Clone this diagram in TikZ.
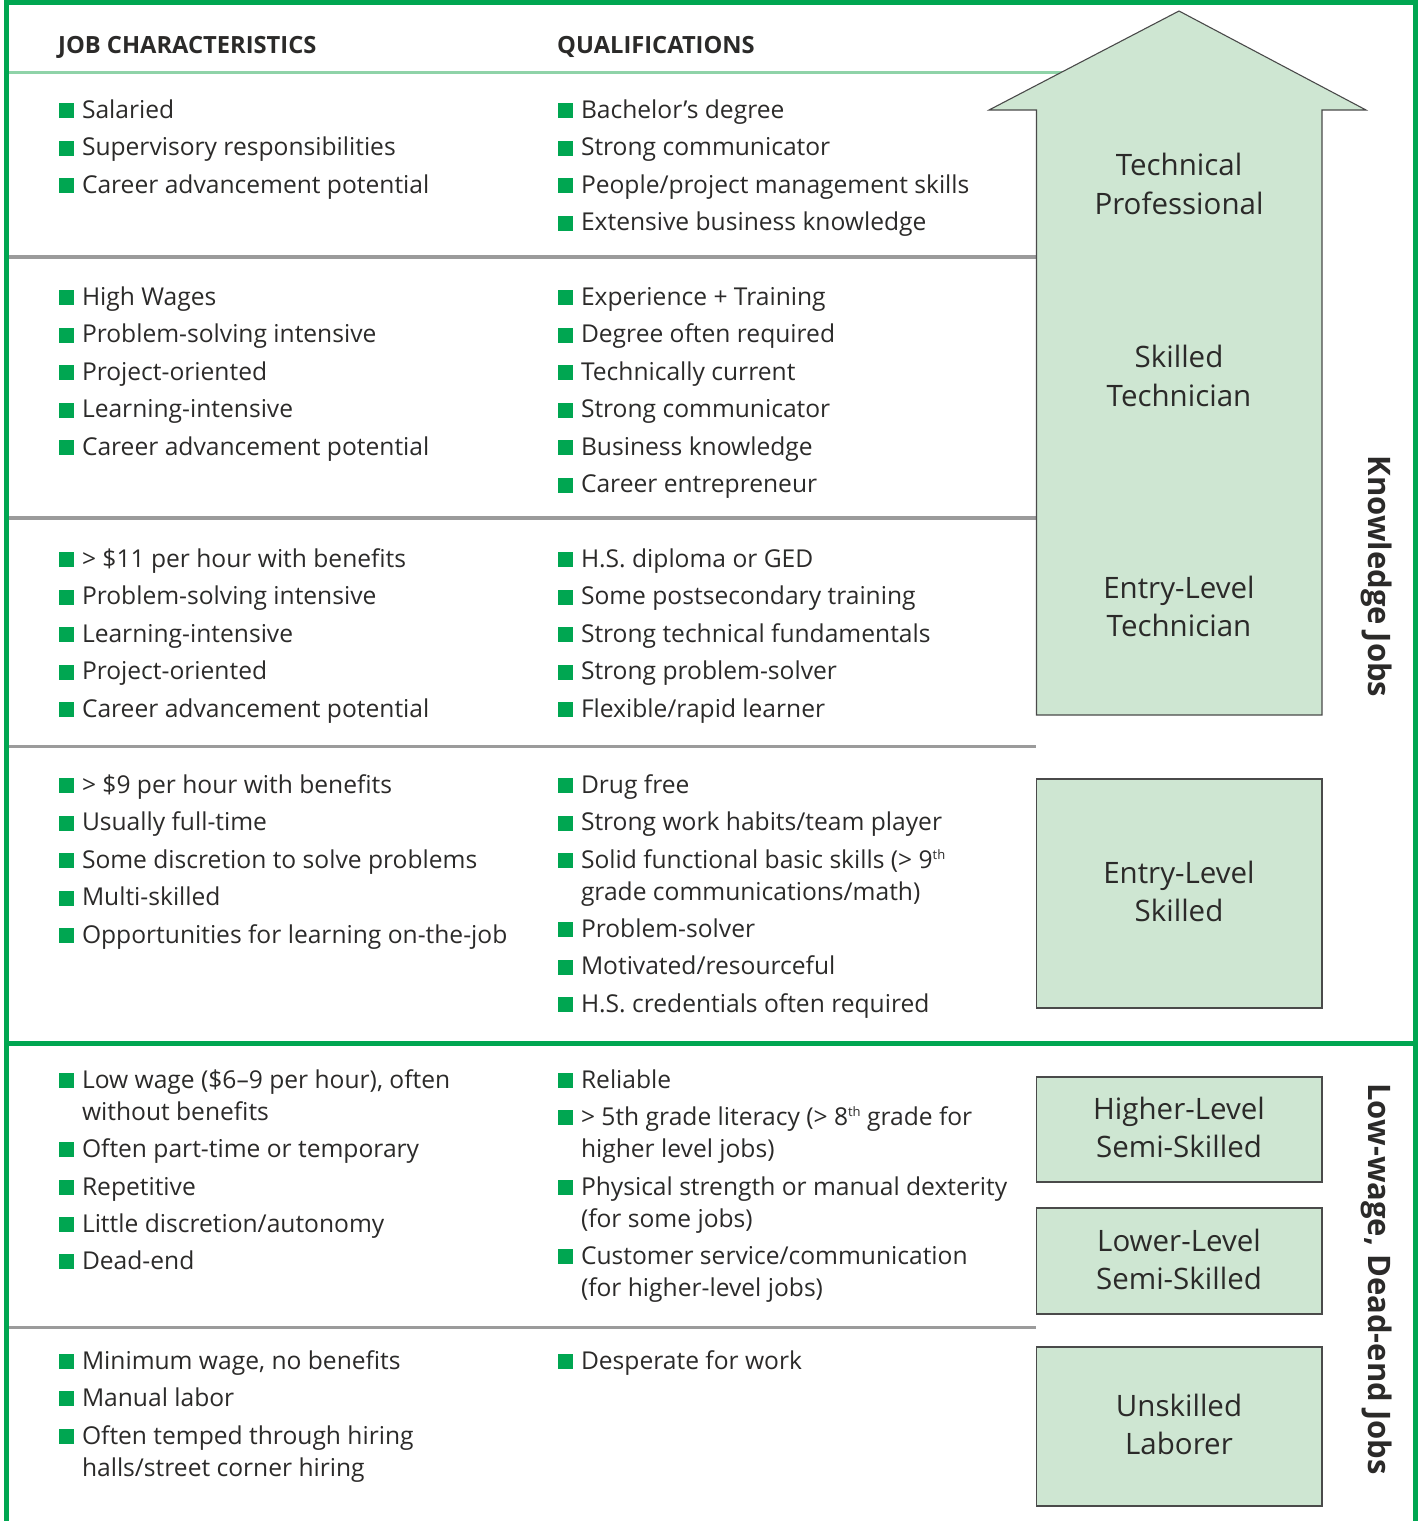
\documentclass[tikz,border=0pt]{standalone}
\usepackage{fontspec}
\setmainfont{Open Sans}
\definecolor{framegreen}{HTML}{00A651}
\definecolor{hdrline}{HTML}{8FD3A8}
\definecolor{sepgray}{HTML}{9B9B9B}
\definecolor{boxfill}{HTML}{CEE6D2}
\definecolor{boxline}{HTML}{4A4A4A}
\definecolor{txt}{HTML}{2B2A29}
\newcommand{\bul}{\textcolor{framegreen}{\rule{15pt}{15pt}}\hspace{8pt}}
\newcommand{\supth}{\raisebox{9pt}{\fontsize{13}{13}\selectfont th}}
\begin{document}
\begin{tikzpicture}[x=1pt,y=-1pt,
  li/.style={anchor=base west, inner sep=0pt, outer sep=0pt, font=\fontsize{24.6}{30}\selectfont, text=txt},
  hdr/.style={anchor=base west, inner sep=0pt, font=\bfseries\fontsize{23.7}{28}\selectfont, text=txt},
  lvl/.style={font=\fontsize{29.5}{38.5}\selectfont, align=center, text=txt, inner sep=0pt},
  sidelabel/.style={font=\bfseries\fontsize{31}{36}\selectfont, rotate=-90, text=txt, inner sep=0pt},
  boxst/.style={draw=boxline, fill=boxfill, line width=1.1pt},
  sep/.style={draw=sepgray, line width=3.5pt},
  frameline/.style={draw=framegreen, line width=5pt}]
\useasboundingbox (0,0) rectangle (1418,1521);

% header line and separators
\draw[draw=hdrline, line width=3pt] (9,72.5) -- (1100,72.5);
\draw[sep] (9,257) -- (1036,257);
\draw[sep] (9,518) -- (1036,518);
\draw[sep] (9,746.5) -- (1036,746.5);
\draw[sep] (9,1327.5) -- (1036,1327.5);

% headers
\node[hdr] (h1) at (58,53) {JOB CHARACTERISTICS};
\node[hdr] (h2) at (557,53) {QUALIFICATIONS};

% big arrow
\draw[boxst] (1036.5,715) -- (1036.5,110) -- (989,110) -- (1179,11) -- (1366,110) -- (1322,110) -- (1322,715) -- cycle;
\node[lvl] (tp) at (1179,184) {Technical\\Professional};
\node[lvl] (st) at (1179,376) {Skilled\\Technician};
\node[lvl] (et) at (1179,606.5) {Entry-Level\\Technician};

% boxes
\node[boxst, minimum width=285.5pt, minimum height=229pt] (esbox) at (1179.25,893.5) {};
\node[lvl] (es) at (1179,891.5) {Entry-Level\\Skilled};
\node[boxst, minimum width=285.5pt, minimum height=105pt] (hibox) at (1179.25,1129.5) {};
\node[lvl] (hi) at (1179,1127.5) {Higher-Level\\Semi-Skilled};
\node[boxst, minimum width=285.5pt, minimum height=106pt] (lobox) at (1179.25,1261) {};
\node[lvl] (lo) at (1179,1259.5) {Lower-Level\\Semi-Skilled};
\node[boxst, minimum width=285.5pt, minimum height=159pt] (unbox) at (1179.25,1426.5) {};
\node[lvl] (un) at (1179,1424.5) {Unskilled\\Laborer};

% side labels
\node[sidelabel] (kj) at (1377,576.5) {Knowledge Jobs};
\node[sidelabel] (lw) at (1377,1279) {Low-wage, Dead-end Jobs};

% section 1
\node[li] (j1a) at (59,118) {\bul Salaried};
\node[li] (j1b) at (59,155.5) {\bul Supervisory responsibilities};
\node[li] (j1c) at (59,193) {\bul Career advancement potential};
\node[li] (q1a) at (558,118) {\bul Bachelor’s degree};
\node[li] (q1b) at (558,155.5) {\bul Strong communicator};
\node[li] (q1c) at (558,193) {\bul People/project management skills};
\node[li] (q1d) at (558,230.5) {\bul Extensive business knowledge};

% section 2
\node[li] (j2a) at (59,305) {\bul High Wages};
\node[li] (j2b) at (59,342.5) {\bul Problem-solving intensive};
\node[li] (j2c) at (59,380) {\bul Project-oriented};
\node[li] (j2d) at (59,417.5) {\bul Learning-intensive};
\node[li] (j2e) at (59,455) {\bul Career advancement potential};
\node[li] (q2a) at (558,305) {\bul Experience + Training};
\node[li] (q2b) at (558,342.5) {\bul Degree often required};
\node[li] (q2c) at (558,380) {\bul Technically current};
\node[li] (q2d) at (558,417.5) {\bul Strong communicator};
\node[li] (q2e) at (558,455) {\bul Business knowledge};
\node[li] (q2f) at (558,492.5) {\bul Career entrepreneur};

% section 3
\node[li] (j3a) at (59,567) {\bul > \$11 per hour with benefits};
\node[li] (j3b) at (59,604.5) {\bul Problem-solving intensive};
\node[li] (j3c) at (59,642) {\bul Learning-intensive};
\node[li] (j3d) at (59,679.5) {\bul Project-oriented};
\node[li] (j3e) at (59,717) {\bul Career advancement potential};
\node[li] (q3a) at (558,567) {\bul H.S. diploma or GED};
\node[li] (q3b) at (558,604.5) {\bul Some postsecondary training};
\node[li] (q3c) at (558,642) {\bul Strong technical fundamentals};
\node[li] (q3d) at (558,679.5) {\bul Strong problem-solver};
\node[li] (q3e) at (558,717) {\bul Flexible/rapid learner};

% section 4
\node[li] (j4a) at (59,793) {\bul > \$9 per hour with benefits};
\node[li] (j4b) at (59,830.5) {\bul Usually full-time};
\node[li] (j4c) at (59,868) {\bul Some discretion to solve problems};
\node[li] (j4d) at (59,905.5) {\bul Multi-skilled};
\node[li] (j4e) at (59,943) {\bul Opportunities for learning on-the-job};
\node[li] (q4a) at (558,793) {\bul Drug free};
\node[li] (q4b) at (558,830.5) {\bul Strong work habits/team player};
\node[li] (q4c) at (558,868) {\bul Solid functional basic skills (> 9\supth};
\node[li] (q4c2) at (581,900) {grade communications/math)};
\node[li] (q4d) at (558,937) {\bul Problem-solver};
\node[li] (q4e) at (558,974.5) {\bul Motivated/resourceful};
\node[li] (q4f) at (558,1012) {\bul H.S. credentials often required};

% section 5
\node[li] (j5a) at (59,1088) {\bul Low wage (\$6–9 per hour), often};
\node[li] (j5a2) at (82,1120) {without benefits};
\node[li] (j5b) at (59,1157) {\bul Often part-time or temporary};
\node[li] (j5c) at (59,1195) {\bul Repetitive};
\node[li] (j5d) at (59,1232) {\bul Little discretion/autonomy};
\node[li] (j5e) at (59,1269) {\bul Dead-end};
\node[li] (q5a) at (558,1088) {\bul Reliable};
\node[li] (q5b) at (558,1125) {\bul > 5th grade literacy (> 8\supth{} grade for};
\node[li] (q5b2) at (581,1157) {higher level jobs)};
\node[li] (q5c) at (558,1195) {\bul Physical strength or manual dexterity};
\node[li] (q5c2) at (581,1227) {(for some jobs)};
\node[li] (q5d) at (558,1264) {\bul Customer service/communication};
\node[li] (q5d2) at (581,1296) {(for higher-level jobs)};

% section 6
\node[li] (j6a) at (59,1369) {\bul Minimum wage, no benefits};
\node[li] (j6b) at (59,1406) {\bul Manual labor};
\node[li] (j6c) at (59,1444) {\bul Often temped through hiring};
\node[li] (j6c2) at (82,1476) {halls/street corner hiring};
\node[li] (q6a) at (558,1369) {\bul Desperate for work};

% frame
\draw[frameline] (6.5,1043.5) -- (1415.5,1043.5);
\draw[frameline] (6.5,1521) -- (6.5,2.5) -- (1415.5,2.5) -- (1415.5,1521);
\end{tikzpicture}
\end{document}
